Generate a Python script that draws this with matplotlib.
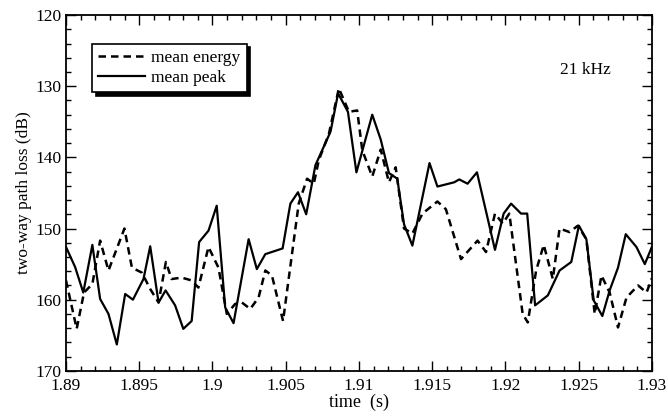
import matplotlib
matplotlib.use("Agg")
import matplotlib.pyplot as plt
from matplotlib.ticker import MultipleLocator, FixedLocator

plt.rcParams['font.family'] = ['Liberation Serif', 'DejaVu Serif']

# mean peak (solid)
t_peak = [1.8900, 1.89062, 1.89118, 1.89180, 1.89233, 1.89290, 1.89347, 1.89404,
          1.89457, 1.89529, 1.89575, 1.89632, 1.89680, 1.89745, 1.89801, 1.89858,
          1.89909, 1.89973, 1.90029, 1.90087, 1.90144, 1.90247, 1.90303, 1.90361,
          1.90479, 1.90532, 1.90584, 1.90640, 1.90703, 1.90806, 1.90858, 1.90925,
          1.90983, 1.91091, 1.91149, 1.91205, 1.91262, 1.91308, 1.91365, 1.91482,
          1.91536, 1.91651, 1.91685, 1.91742, 1.91806, 1.91929, 1.91988, 1.92039,
          1.92107, 1.92149, 1.92203, 1.92290, 1.92370, 1.92450, 1.92502, 1.92553,
          1.92603, 1.92662, 1.92712, 1.92769, 1.92822, 1.92895, 1.92952, 1.9300]
v_peak = [152.6, 155.4, 159.0, 152.3, 159.9, 162.0, 166.3, 159.2,
          160.0, 157.1, 152.5, 160.4, 158.7, 160.8, 164.1, 163.0,
          151.9, 150.3, 146.8, 161.1, 163.3, 151.5, 155.7, 153.6,
          152.8, 146.5, 144.9, 148.0, 141.1, 136.4, 131.0, 133.6,
          142.1, 134.0, 137.5, 142.2, 143.0, 149.4, 152.4, 140.8,
          144.1, 143.5, 143.1, 143.7, 142.1, 153.0, 147.9, 146.5,
          147.9, 147.9, 160.8, 159.4, 155.9, 154.7, 149.6, 151.5,
          160.1, 162.3, 158.7, 155.5, 150.8, 152.6, 155.0, 152.6]

# mean energy (dashed)
t_energy = [1.8900, 1.89073, 1.89123, 1.89180, 1.89233, 1.89290, 1.89399, 1.89450,
            1.89518, 1.89575, 1.89632, 1.89682, 1.89721, 1.89790, 1.89858, 1.89904,
            1.89973, 1.90041, 1.90098, 1.90155, 1.90201, 1.90258, 1.90315, 1.90361,
            1.90406, 1.90482, 1.90589, 1.90646, 1.90692, 1.90726, 1.90795, 1.90863,
            1.90932, 1.90988, 1.91023, 1.91091, 1.91149, 1.91205, 1.91251, 1.91308,
            1.91365, 1.91434, 1.91536, 1.91594, 1.91697, 1.91810, 1.91868, 1.91929,
            1.91982, 1.92027, 1.92118, 1.92153, 1.92210, 1.92262, 1.92324, 1.92370,
            1.92438, 1.92495, 1.92553, 1.92610, 1.92656, 1.92712, 1.92769, 1.92827,
            1.92906, 1.92964, 1.9300]
v_energy = [157.3, 164.1, 159.0, 157.8, 151.7, 155.9, 150.0, 155.5,
            156.2, 158.5, 160.4, 154.7, 157.1, 156.9, 157.3, 158.3,
            152.6, 155.5, 162.0, 160.6, 160.4, 161.3, 159.7, 155.9,
            156.6, 163.0, 146.5, 143.0, 143.7, 140.4, 136.7, 130.3,
            133.6, 133.4, 139.0, 142.7, 138.9, 143.5, 141.4, 150.0,
            150.7, 147.9, 146.2, 147.3, 154.3, 151.7, 153.3, 147.9,
            149.3, 147.9, 162.0, 163.2, 155.9, 152.3, 157.1, 150.0,
            150.5, 149.6, 151.5, 162.0, 156.6, 159.0, 163.9, 159.7,
            158.0, 159.0, 157.0]

x_ticks = [1.89, 1.895, 1.9, 1.905, 1.91, 1.915, 1.92, 1.925, 1.93]
x_tick_labels = ['1.89', '1.895', '1.9', '1.905', '1.91', '1.915', '1.92', '1.925', '1.93']
y_ticks = [120, 130, 140, 150, 160, 170]

fig = plt.figure(figsize=(6.68, 4.19), dpi=100)
ax = fig.add_axes([0.0988, 0.115, 0.877, 0.849])

ax.plot(t_energy, v_energy, color='black', lw=1.8, linestyle=(0, (3, 2)), label='mean energy')
ax.plot(t_peak, v_peak, color='black', lw=1.6, label='mean peak')

ax.set_xlim(1.89, 1.93)
ax.set_ylim(170, 120)
ax.xaxis.set_major_locator(FixedLocator(x_ticks))
ax.set_xticklabels(x_tick_labels)
ax.xaxis.set_minor_locator(MultipleLocator(0.001))
ax.yaxis.set_major_locator(FixedLocator(y_ticks))
ax.yaxis.set_minor_locator(MultipleLocator(2))
ax.tick_params(which='both', direction='in', top=True, right=True, labelsize=12.5, width=1.0)
ax.tick_params(axis='x', which='major', pad=5)
ax.tick_params(axis='y', which='major', pad=3)
ax.tick_params(which='major', length=7)
ax.tick_params(which='minor', length=3.5)
for s in ax.spines.values():
    s.set_linewidth(1.3)

ax.set_xlabel('time  (s)', fontsize=13, labelpad=0)
ax.set_ylabel('two-way path loss (dB)', fontsize=12.5, labelpad=3)

ax.text(1.9237, 127.7, '21 kHz', fontsize=12.5, va='center', ha='left')

leg = ax.legend(loc='upper left', bbox_to_anchor=(0.045, 0.92), fontsize=12.5,
                frameon=True, fancybox=False, edgecolor='black', framealpha=1,
                shadow={'color': 'black', 'alpha': 1.0, 'ox': 2.5, 'oy': -2.5},
                handlelength=2.7, handletextpad=0.35, borderpad=0.35, labelspacing=0.25,
                borderaxespad=0)
leg.get_frame().set_linewidth(1.2)

fig.savefig('out.png', dpi=100)
